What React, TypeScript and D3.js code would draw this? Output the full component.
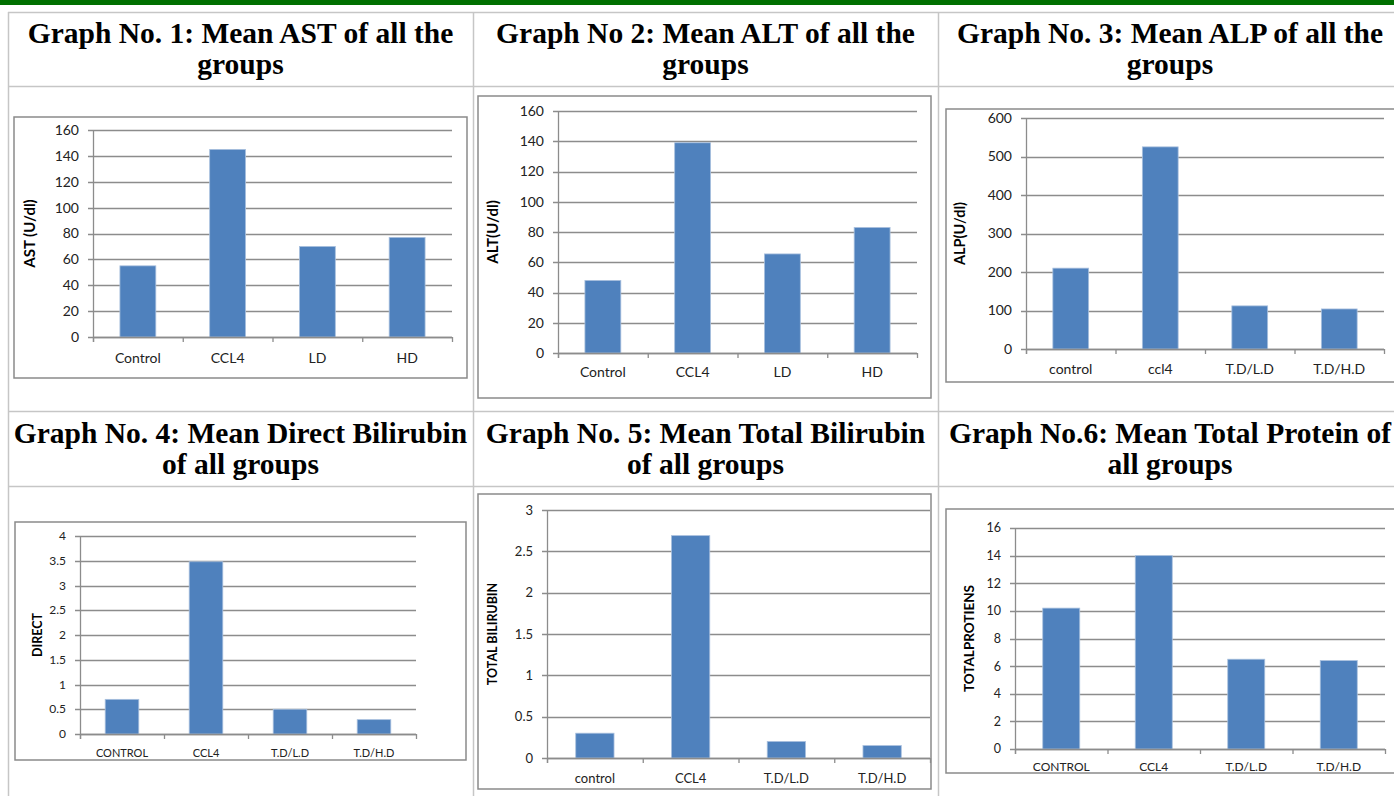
import React from "react";
import * as d3 from "d3";

// ---------- data ----------
const astCats = ["Control", "CCL4", "LD", "HD"];
const astVals = [55, 145, 70, 77];
const astTicks = [0, 20, 40, 60, 80, 100, 120, 140, 160];

const altCats = ["Control", "CCL4", "LD", "HD"];
const altVals = [48, 139, 65.5, 83];
const altTicks = [0, 20, 40, 60, 80, 100, 120, 140, 160];

const alpCats = ["control", "ccl4", "T.D/L.D", "T.D/H.D"];
const alpVals = [210, 525, 112, 104];
const alpTicks = [0, 100, 200, 300, 400, 500, 600];

const directCats = ["CONTROL", "CCL4", "T.D/L.D", "T.D/H.D"];
const directVals = [0.7, 3.48, 0.5, 0.29];
const directTicks = [0, 0.5, 1, 1.5, 2, 2.5, 3, 3.5, 4];

const totalBiliCats = ["control", "CCL4", "T.D/L.D", "T.D/H.D"];
const totalBiliVals = [0.3, 2.69, 0.2, 0.15];
const totalBiliTicks = [0, 0.5, 1, 1.5, 2, 2.5, 3];

const proteinCats = ["CONTROL", "CCL4", "T.D/L.D", "T.D/H.D"];
const proteinVals = [10.2, 14, 6.5, 6.4];
const proteinTicks = [0, 2, 4, 6, 8, 10, 12, 14, 16];

const titles = [
  ["Graph No. 1: Mean AST of all the", "groups"],
  ["Graph No 2: Mean ALT of all the", "groups"],
  ["Graph No. 3: Mean ALP of all the", "groups"],
  ["Graph No. 4: Mean Direct Bilirubin", "of all groups"],
  ["Graph No. 5: Mean Total Bilirubin", "of all groups"],
  ["Graph No.6: Mean Total Protein of", "all groups"],
];

const yLabels = ["AST (U/dl)", "ALT(U/dl)", "ALP(U/dl)", "DIRECT", "TOTAL BILIRUBIN", "TOTALPROTIENS"];

// ---------- layout ----------
const W = 1394;
const H = 796;
const FONT = "Lato, 'Open Sans', sans-serif";
const BAR = "#4f81bd";
const GRID = "#8c8c8c";
const TABLE = "#c6c6c6";

type Panel = {
  cats: string[];
  vals: number[];
  ticks: number[];
  label: string;
  frame: { x: number; y: number; w: number; h: number };
  plot: { l: number; t: number; r: number; b: number };
  yLabelX: number;
  catDy: number;
  tickFs: number;
  catFs: number;
  labFs: number;
};

const panels: Panel[] = [
  { cats: astCats, vals: astVals, ticks: astTicks, label: yLabels[0],
    frame: { x: 14, y: 117, w: 453, h: 261 }, plot: { l: 93, t: 130, r: 452, b: 337 },
    yLabelX: 30, catDy: 21, tickFs: 14, catFs: 14, labFs: 15 },
  { cats: altCats, vals: altVals, ticks: altTicks, label: yLabels[1],
    frame: { x: 478, y: 96, w: 453, h: 302 }, plot: { l: 558, t: 111, r: 917, b: 353 },
    yLabelX: 493, catDy: 19, tickFs: 14, catFs: 14, labFs: 15 },
  { cats: alpCats, vals: alpVals, ticks: alpTicks, label: yLabels[2],
    frame: { x: 946, y: 109, w: 470, h: 273 }, plot: { l: 1026, t: 118, r: 1384, b: 349 },
    yLabelX: 960, catDy: 20, tickFs: 14, catFs: 14, labFs: 14.5 },
  { cats: directCats, vals: directVals, ticks: directTicks, label: yLabels[3],
    frame: { x: 15, y: 522, w: 451, h: 238 }, plot: { l: 80, t: 536, r: 416, b: 734 },
    yLabelX: 38, catDy: 19, tickFs: 12, catFs: 11, labFs: 12.5 },
  { cats: totalBiliCats, vals: totalBiliVals, ticks: totalBiliTicks, label: yLabels[4],
    frame: { x: 478, y: 494, w: 453, h: 295 }, plot: { l: 547, t: 510, r: 930, b: 758 },
    yLabelX: 493, catDy: 20, tickFs: 13, catFs: 13, labFs: 12.5 },
  { cats: proteinCats, vals: proteinVals, ticks: proteinTicks, label: yLabels[5],
    frame: { x: 946, y: 509, w: 470, h: 264 }, plot: { l: 1015, t: 528, r: 1385, b: 749 },
    yLabelX: 969, catDy: 18, tickFs: 12.5, catFs: 12, labFs: 13.5 },
];

const titleCenters = [240.5, 705.5, 1170];
const titleRows = [43, 443];

function BarPanel({ p }: { p: Panel }) {
  const x = d3.scaleBand<string>().domain(p.cats).range([p.plot.l, p.plot.r]).paddingInner(0.6).paddingOuter(0.3);
  const step = (p.plot.r - p.plot.l) / p.cats.length;
  const y = d3.scaleLinear().domain([0, p.ticks[p.ticks.length - 1]]).range([p.plot.b, p.plot.t]);
  const bounds = d3.range(p.cats.length + 1).map((i) => p.plot.l + i * step);
  const midY = (p.plot.t + p.plot.b) / 2;
  return (
    <g>
      <rect x={p.frame.x} y={p.frame.y} width={p.frame.w} height={p.frame.h} fill="#fff" stroke="#8a8a8a" strokeWidth={1.5} />
      {p.ticks.map((t) => (
        <g key={t}>
          <line x1={p.plot.l - 5} x2={p.plot.r} y1={Math.round(y(t)) + 0.5} y2={Math.round(y(t)) + 0.5} stroke={GRID} strokeWidth={1.3} />
          <text x={p.plot.l - 14} y={y(t)} dy="0.35em" textAnchor="end" fontSize={p.tickFs} fontFamily={FONT} fill="#222">
            {String(t)}
          </text>
        </g>
      ))}
      {p.cats.map((c, i) => (
        <rect key={c} x={x(c)!} y={y(p.vals[i])} width={x.bandwidth()} height={p.plot.b - y(p.vals[i])} fill={BAR} stroke="#a9c0de" strokeWidth={0.8} />
      ))}
      <line x1={p.plot.l + 0.5} x2={p.plot.l + 0.5} y1={p.plot.t} y2={p.plot.b + 5} stroke={GRID} strokeWidth={1.3} />
      <line x1={p.plot.l} x2={p.plot.r} y1={Math.round(y(0)) + 0.5} y2={Math.round(y(0)) + 0.5} stroke={GRID} strokeWidth={1.3} />
      {bounds.map((b, i) => (
        <line key={i} x1={b + 0.5} x2={b + 0.5} y1={p.plot.b} y2={p.plot.b + 5} stroke={GRID} strokeWidth={1.3} />
      ))}
      {p.cats.map((c) => (
        <text key={c} x={x(c)! + x.bandwidth() / 2} y={p.plot.b + p.catDy} dy="0.35em" textAnchor="middle" fontSize={p.catFs} fontFamily={FONT} fill="#222">
          {c}
        </text>
      ))}
      <text transform={`translate(${p.yLabelX},${midY}) rotate(-90)`} textAnchor="middle" dy="0.35em" fontSize={p.labFs} fontWeight="bold" fontFamily={FONT} fill="#000">
        {p.label}
      </text>
    </g>
  );
}

export default function App() {
  return (
    <svg width={W} height={H} style={{ position: "absolute", left: 0, top: 0, background: "#fff" }}>
      <rect x={0} y={0} width={W} height={H} fill="#fff" />
      <rect x={0} y={0} width={W} height={5} fill="#007000" />
      {/* table grid */}
      {[12, 86, 411, 486].map((yy) => (
        <line key={yy} x1={8} x2={W} y1={yy + 0.5} y2={yy + 0.5} stroke={TABLE} strokeWidth={1.5} />
      ))}
      {[8, 473, 938].map((xx) => (
        <line key={xx} x1={xx + 0.5} x2={xx + 0.5} y1={12} y2={H} stroke={TABLE} strokeWidth={1.5} />
      ))}
      {titles.map((t, i) => (
        <text key={i} x={titleCenters[i % 3]} y={titleRows[Math.floor(i / 3)]} textAnchor="middle" fontFamily="'Liberation Serif', 'Times New Roman', serif" fontWeight="bold" fontSize={29.5} fill="#000">
          <tspan x={titleCenters[i % 3]} dy={0}>{t[0]}</tspan>
          <tspan x={titleCenters[i % 3]} dy={31}>{t[1]}</tspan>
        </text>
      ))}
      {panels.map((p, i) => (
        <BarPanel key={i} p={p} />
      ))}
    </svg>
  );
}
